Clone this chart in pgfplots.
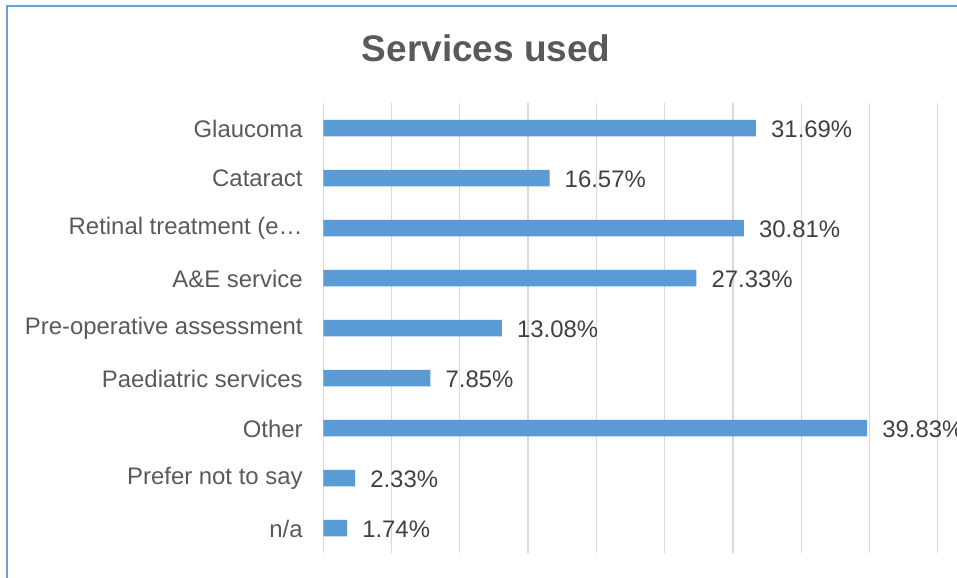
\documentclass[border=0pt]{standalone}
\usepackage{pgfplots}
\pgfplotsset{compat=1.18}
\usepackage{fontspec}
\setmainfont{Liberation Sans}
\definecolor{barblue}{HTML}{5B9BD5}
\definecolor{txtgrey}{HTML}{595959}
\definecolor{valgrey}{HTML}{404040}
\definecolor{gridgrey}{HTML}{D9D9D9}
\definecolor{framecol}{HTML}{6A9FD8}
\begin{document}
\begin{tikzpicture}
\useasboundingbox (-323.3bp,-25bp) rectangle (633.7bp,553bp);
\draw[framecol, line width=1.2bp] (-316.3bp,-30bp) -- (-316.3bp,547bp) -- (640bp,547bp);
\node[anchor=base, text=txtgrey, inner sep=0pt, font=\fontsize{37.1}{44}\selectfont\bfseries] at (163bp,491bp) {Services used};
\begin{axis}[
  at={(0,0)}, anchor=south west,
  scale only axis,
  width=614.4bp, height=450bp,
  xbar, bar width=16.5bp,
  xmin=0, xmax=45,
  ymin=-0.5, ymax=8.5,
  y dir=reverse,
  axis line style={draw=none},
  xtick={0,5,...,45}, xticklabels={},
  xmajorgrids, grid style={gridgrey, line width=1.3bp},
  major tick length=0pt,
  ytick={0,...,8},
  yticklabels={Glaucoma, Cataract, Retinal treatment (e…, A\&E service, Pre-operative assessment, Paediatric services, Other, Prefer not to say, n/a},
  yticklabel style={inner sep=0pt, xshift=-20.5bp, yshift=-0.5bp, text=txtgrey, font=\fontsize{24}{28}\selectfont},
  point meta=explicit symbolic,
  nodes near coords={\pgfplotspointmeta\%},
  every node near coord/.append style={anchor=west, inner sep=0pt, xshift=15bp, yshift=-1bp, text=valgrey, font=\fontsize{24}{28}\selectfont},
  clip=false,
]
\addplot[fill=barblue, draw=none] table[x=v, y=y, meta=lab] {
y v lab
0 31.69 31.69
1 16.57 16.57
2 30.81 30.81
3 27.33 27.33
4 13.08 13.08
5 7.85 7.85
6 39.83 39.83
7 2.33 2.33
8 1.74 1.74
};
\end{axis}
\end{tikzpicture}
\end{document}
